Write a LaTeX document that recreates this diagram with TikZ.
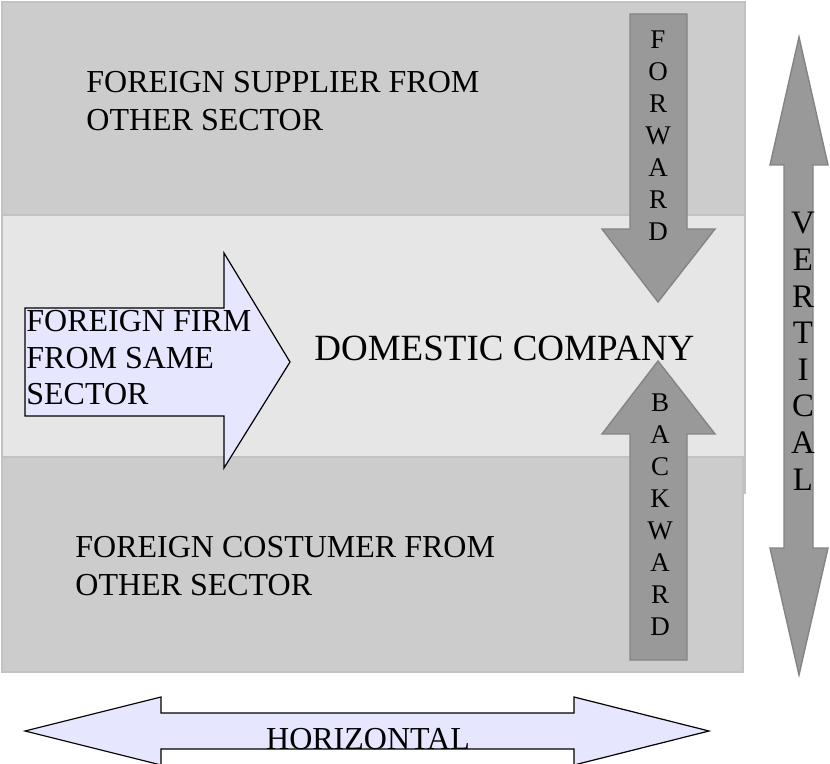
\documentclass[tikz,border=0pt]{standalone}
\usepackage{fontspec}
\setmainfont{Liberation Serif}
\usetikzlibrary{positioning}

\definecolor{bandgray}{HTML}{CCCCCC}
\definecolor{midgray}{HTML}{E6E6E6}
\definecolor{bandline}{HTML}{C2C2C2}
\definecolor{arrowgray}{HTML}{999999}
\definecolor{arrowline}{HTML}{848484}
\definecolor{lavender}{HTML}{E6E6FF}

\tikzset{
  band/.style={fill=bandgray, draw=bandline, line width=0.7pt},
  flow/.style={fill=arrowgray, draw=arrowline, line width=0.7pt},
  firm/.style={fill=lavender, draw=black, line width=0.6pt},
  % multi-line nodes sit on the baseline of their last line
  lbl/.style={inner sep=0pt, anchor=base west, align=left,
    font=\fontsize{16}{19}\selectfont},
  spell/.style={inner sep=0pt, anchor=base, align=center,
    font=\fontsize{13.5}{16}\selectfont},
}

\begin{document}
\begin{tikzpicture}[x=0.5pt, y=-0.5pt]
  \useasboundingbox (0,0) rectangle (830,764);

  % the three sector bands
  \draw[band] (2,2) rectangle (745,215);
  \draw[band, fill=midgray] (2,215) rectangle (745,493);
  \draw[band] (2,457) rectangle (743,672);

  % same sector
  \draw[firm] (25,308) -- (224,308) -- (224,253) -- (290,362)
    -- (224,468) -- (224,416) -- (25,416) -- cycle;
  \node[lbl, font=\fontsize{16}{18.25}\selectfont] (firm) at (26,405)
    {FOREIGN FIRM\\FROM SAME\\SECTOR};

  % other sectors
  \draw[flow] (630,14) -- (687,14) -- (687,229) -- (715,229) -- (658,302)
    -- (602,229) -- (630,229) -- cycle;
  \node[lbl] (supplier) at (86,131) {FOREIGN SUPPLIER FROM\\OTHER SECTOR};
  \node[lbl] (costumer) at (75,595) {FOREIGN COSTUMER FROM\\OTHER SECTOR};
  \node[lbl, font=\fontsize{18.5}{22}\selectfont] (company) at (314,361)
    {DOMESTIC COMPANY};

  \draw[flow] (658,361) -- (715,434) -- (687,434) -- (687,660)
    -- (630,660) -- (630,434) -- (602,434) -- cycle;
  \node[spell] (forward) at (658,241) {F\\O\\R\\W\\A\\R\\D};
  \node[spell] (backward) at (660,635) {B\\A\\C\\K\\W\\A\\R\\D};

  % spillover directions
  \draw[flow] (799,37) -- (828,165) -- (813,165) -- (813,548) -- (828,548)
    -- (799,675) -- (770,548) -- (784,548) -- (784,165) -- (770,165) -- cycle;
  \node[spell, font=\fontsize{16.4}{18.3}\selectfont] (vertical) at (803,490)
    {V\\E\\R\\T\\I\\C\\A\\L};

  \draw[firm] (25,731) -- (161,697) -- (161,713) -- (574,713) -- (574,697)
    -- (709,731) -- (574,765) -- (574,749) -- (161,749) -- (161,765) -- cycle;
  \node[lbl, anchor=base] (horizontal) at (368,749) {HORIZONTAL};
\end{tikzpicture}
\end{document}
